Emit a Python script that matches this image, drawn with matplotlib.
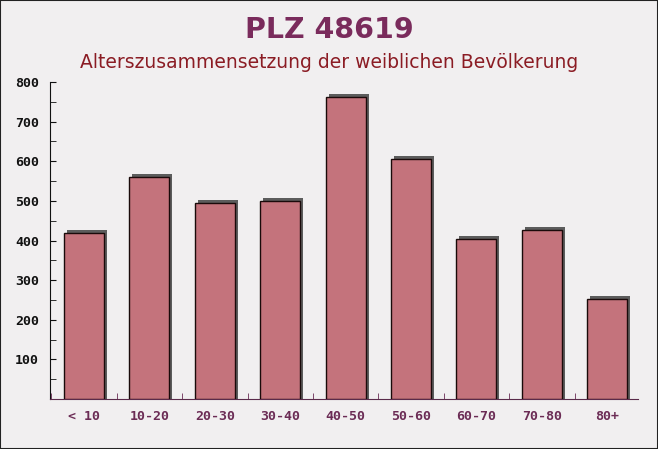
import matplotlib
matplotlib.use("Agg")
import matplotlib.pyplot as plt
from matplotlib.patches import Rectangle
from matplotlib.ticker import MultipleLocator, FixedLocator

categories = ["< 10", "10-20", "20-30", "30-40", "40-50", "50-60", "60-70", "70-80", "80+"]
values = [419, 560, 495, 500, 763, 606, 404, 427, 252]
title = "PLZ 48619"
subtitle = "Alterszusammensetzung der weiblichen Bevölkerung"

W, H = 658, 449
fig = plt.figure(figsize=(W / 100, H / 100), dpi=100)
fig.patch.set_facecolor("#f1eff0")
fig.add_artist(Rectangle((0, 0), 1, 1, transform=fig.transFigure, fill=False,
                         edgecolor="#222222", linewidth=1.5))

ax = fig.add_axes([50 / W, 50 / H, 588 / W, 317 / H])
ax.set_facecolor("none")

x = list(range(len(categories)))
bw = 0.61
# shadow offset in data units (~3 px)
dx = 3 / 65.4
dy = 3 * 800 / 317
for xi, v in zip(x, values):
    ax.add_patch(Rectangle((xi - bw / 2 + dx, 0), bw, v + dy, facecolor="#5c5c5c",
                           edgecolor="none", zorder=2))
ax.bar(x, values, width=bw, color="#c4737c", edgecolor="#1a0a0a",
       linewidth=1.0, zorder=3)

ax.set_xlim(-0.52, 8.47)
ax.set_ylim(0, 800)
ax.set_xticks(x)
ax.set_xticklabels(categories)
ax.xaxis.set_minor_locator(FixedLocator([i + 0.5 for i in range(-1, 9)]))
ax.yaxis.set_minor_locator(MultipleLocator(50))
yt = [100, 200, 300, 400, 500, 600, 700, 800]
ax.set_yticks(yt)
ax.set_yticklabels([str(v) for v in yt])

for s in ["top", "right"]:
    ax.spines[s].set_visible(False)
ax.spines["left"].set_color("#111111")
ax.spines["bottom"].set_color("#5a2a4a")

ax.tick_params(axis="x", which="major", length=0, pad=8, labelsize=9.5,
               labelcolor="#6b2c55")
ax.tick_params(axis="x", which="minor", direction="in", length=4, color="#6b2c55")
ax.tick_params(axis="y", which="both", direction="in", length=4, color="#111111",
               labelsize=9.5, labelcolor="#111111", pad=8)
for lab in ax.get_xticklabels() + ax.get_yticklabels():
    lab.set_fontfamily("DejaVu Sans Mono")
    lab.set_fontweight("bold")

fig.text(0.5, 1 - 30 / H, title, ha="center", va="center", fontsize=20.5,
         fontweight="bold", color="#7a2b5c", family="DejaVu Sans")
fig.text(0.5, 1 - 62 / H, subtitle, ha="center", va="center", fontsize=13.5,
         color="#8b1c24", family="DejaVu Sans")

fig.savefig("out.png", dpi=100, facecolor=fig.get_facecolor())
